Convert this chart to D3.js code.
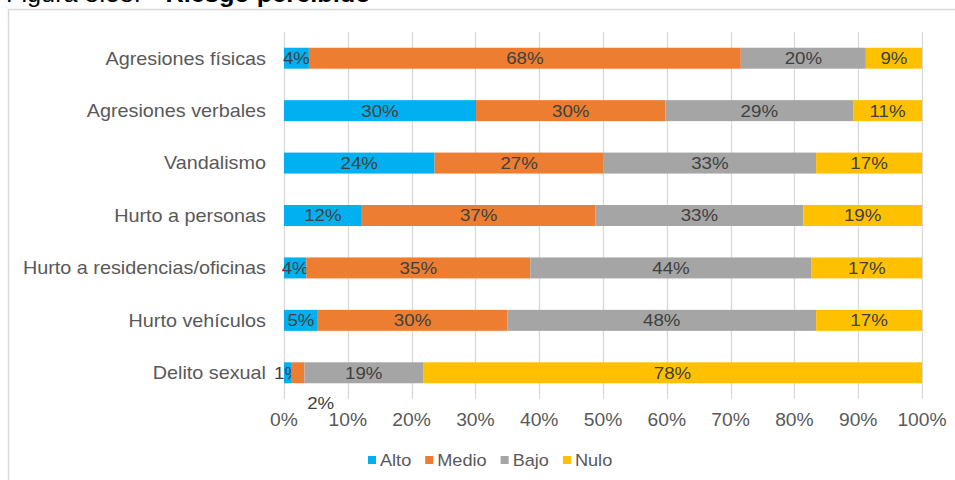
<!DOCTYPE html>
<meta charset="utf-8">
<script src="https://d3js.org/d3.v7.min.js"></script>
<style>
  body { margin: 0; background: #fff; }
  text { font-family: "Liberation Sans", Arial, sans-serif; }
</style>
<div id="my_dataviz"></div>
<script>

// categories, top to bottom
var categories = ["Agresiones físicas", "Agresiones verbales", "Vandalismo", "Hurto a personas",
                  "Hurto a residencias/oficinas", "Hurto vehículos", "Delito sexual"];
var series = ["Alto", "Medio", "Bajo", "Nulo"];

// percentages
var alto  = [3.9, 30.1, 23.6, 12.2, 3.5, 5.3, 1.1];
var medio = [67.7, 29.7, 26.5, 36.6, 35.1, 29.7, 2.1];
var bajo  = [19.6, 29.4, 33.3, 32.6, 44.1, 48.4, 18.6];
var nulo  = [8.8, 10.8, 16.6, 18.6, 17.3, 16.6, 78.2];

var xTicks = [0, 10, 20, 30, 40, 50, 60, 70, 80, 90, 100];

var colors = ["#00B0F0", "#ED7D31", "#A5A5A5", "#FFC000"];

var W = 955, H = 480;
var margin = {top: 32, right: 33, bottom: 81, left: 284},
    width = W - margin.left - margin.right,
    height = H - margin.top - margin.bottom;

// the source text is a bit wide, stretch it horizontally around its anchor
var stretch = 1.1;
function at(px, py) {
  return "translate(" + px + "," + py + ") scale(" + stretch + ",1)";
}

var svg = d3.select("#my_dataviz")
  .append("svg")
    .attr("width", W)
    .attr("height", H);

// title, mostly cut off at the top
var title = svg.append("text")
  .attr("transform", at(6, 2))
  .attr("font-size", 23)
  .attr("fill", "#000");
title.append("tspan").text("Figura 8.58: ");
title.append("tspan").attr("font-weight", "bold").attr("dx", 16).text("Riesgo percibido");

// chart frame
svg.append("rect")
  .attr("x", 8.5)
  .attr("y", 9.5)
  .attr("width", 1000)
  .attr("height", 600)
  .attr("fill", "none")
  .attr("stroke", "#D9D9D9")
  .attr("stroke-width", 1.5);

var g = svg.append("g")
  .attr("transform", "translate(" + margin.left + "," + margin.top + ")");

var x = d3.scaleLinear().domain([0, 100]).range([0, width]);
var y = d3.scaleBand().domain(categories).range([0, height])
  .paddingInner(0.6).paddingOuter(0.3);

// gridlines
g.selectAll(".grid")
  .data(xTicks)
  .enter().append("line")
    .attr("x1", function(d) { return Math.round(x(d)) + 0.5; })
    .attr("x2", function(d) { return Math.round(x(d)) + 0.5; })
    .attr("y1", 0)
    .attr("y2", height)
    .attr("stroke", "#D9D9D9")
    .attr("stroke-width", 1.3);

// x tick labels
g.selectAll(".xlab")
  .data(xTicks)
  .enter().append("text")
    .attr("transform", function(d) { return at(x(d), height + 27); })
    .attr("text-anchor", "middle")
    .attr("font-size", 17.5)
    .attr("fill", "#595959")
    .text(function(d) { return d + "%"; });

// category labels
g.selectAll(".ylab")
  .data(categories)
  .enter().append("text")
    .attr("transform", function(d) { return at(-18, y(d) + y.bandwidth() / 2); })
    .attr("dy", "0.35em")
    .attr("text-anchor", "end")
    .attr("font-size", 18)
    .attr("fill", "#595959")
    .text(function(d) { return d; });

// build stack input from the arrays
var table = categories.map(function(c, i) {
  return {cat: c, Alto: alto[i], Medio: medio[i], Bajo: bajo[i], Nulo: nulo[i]};
});
var stacked = d3.stack().keys(series)(table);

var layers = g.selectAll(".layer")
  .data(stacked)
  .enter().append("g")
    .attr("fill", function(d, i) { return colors[i]; });

layers.selectAll("rect")
  .data(function(d) { return d; })
  .enter().append("rect")
    .attr("x", function(d) { return x(d[0]); })
    .attr("y", function(d) { return y(d.data.cat); })
    .attr("width", function(d) { return x(d[1]) - x(d[0]); })
    .attr("height", y.bandwidth());

// data labels
layers.selectAll("text")
  .data(function(d) { return d.map(function(p) { p.key = d.key; return p; }); })
  .enter().append("text")
    .attr("transform", function(d) {
      var px = x((d[0] + d[1]) / 2),
          py = y(d.data.cat) + y.bandwidth() / 2;
      // the tiny Medio label of the last bar was pushed below the bar
      if (d.data.cat === "Delito sexual" && d.key === "Medio") { px += 23; py += 30; }
      return at(px, py);
    })
    .attr("dy", "0.35em")
    .attr("text-anchor", "middle")
    .attr("font-size", 17)
    .attr("fill", "#404040")
    .text(function(d) { return Math.round(d[1] - d[0]) + "%"; });

// legend
var legend = svg.append("g").attr("transform", "translate(0," + 460 + ")");
var lx = 368;
series.forEach(function(s, i) {
  legend.append("rect")
    .attr("x", lx)
    .attr("y", -4)
    .attr("width", 8)
    .attr("height", 8)
    .attr("fill", colors[i]);
  var t = legend.append("text")
    .attr("transform", at(lx + 12, 0))
    .attr("dy", "0.35em")
    .attr("font-size", 16.5)
    .attr("fill", "#595959")
    .text(s);
  lx += 12 + t.node().getComputedTextLength() * stretch + 14;
});

</script>
